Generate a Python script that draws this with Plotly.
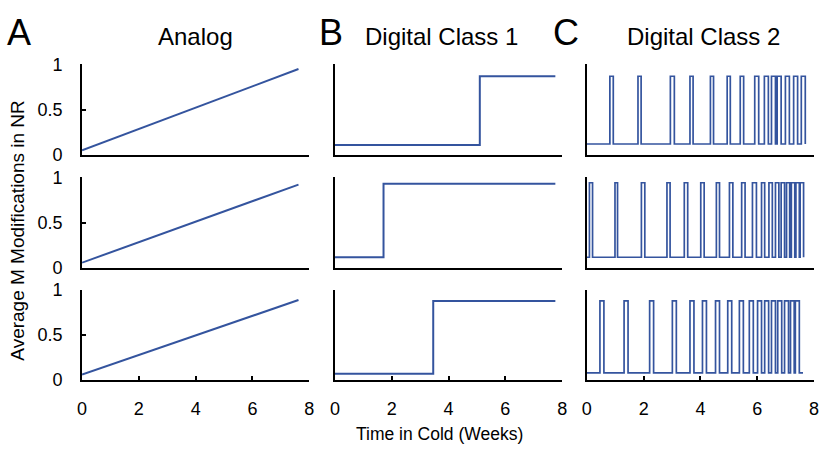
import plotly.graph_objects as go

W, H = 826, 455

# ---------------- data ----------------
rows = [0, 1, 2]
x_ticks = [0, 2, 4, 6, 8]
y_ticks = [0, 0.5, 1]
y_tick_text = ["0", "0.5", "1"]
panel_letters = ["A", "B", "C"]
panel_titles = ["Analog", "Digital Class 1", "Digital Class 2"]
x_title = "Time in Cold (Weeks)"
y_title = "Average M Modifications in NR"

# Analog: linear rise
analog_t = [0.0, 7.62]
analog_start = [0.05, 0.06, 0.06]
analog_end = [0.95, 0.92, 0.89]

# Digital class 1: single switch
class1_low = [0.11, 0.12, 0.07]
class1_high = [0.87, 0.93, 0.88]
class1_switch = [5.10, 1.71, 3.46]
class1_end = [7.76, 7.76, 7.76]

# Digital class 2: repeated pulses (on, off) in weeks
class2_low = [0.12, 0.12, 0.08]
class2_high = [0.87, 0.94, 0.88]
class2_on = [
    [0.81, 1.80, 2.94, 3.63, 4.35, 4.94, 5.40, 5.91, 6.25, 6.50, 6.70, 6.99, 7.28, 7.55],
    [0.09, 0.99, 1.92, 2.82, 3.43, 4.01, 4.56, 5.02, 5.45, 5.83, 6.15, 6.41, 6.64, 6.84, 7.03, 7.20, 7.36, 7.51],
    [0.46, 1.31, 2.21, 3.01, 3.63, 4.07, 4.53, 4.96, 5.37, 5.72, 6.01, 6.26, 6.50, 6.72, 6.96, 7.17, 7.34],
]
class2_off = [
    [0.93, 1.91, 3.08, 3.74, 4.46, 5.05, 5.52, 6.05, 6.39, 6.64, 6.84, 7.13, 7.42, 7.69],
    [0.20, 1.08, 2.04, 2.93, 3.55, 4.13, 4.67, 5.14, 5.57, 5.97, 6.26, 6.53, 6.76, 6.96, 7.14, 7.32, 7.48, 7.63],
    [0.60, 1.45, 2.35, 3.15, 3.77, 4.21, 4.67, 5.10, 5.51, 5.86, 6.15, 6.40, 6.64, 6.86, 7.10, 7.30, 7.48],
]
class2_end = [7.69, 7.63, 7.61]

# ---------------- layout geometry (pixels) ----------------
col_px = [(78, 308), (334, 564), (589, 819)]
row_px = [(57, 151.5), (175, 270), (293, 387)]  # (top, bottom)

LINE = "rgb(52,84,158)"
FONT = "Liberation Sans, Arial, sans-serif"

fig = go.Figure()


def axname(r, c):
    i = r * 3 + c + 1
    return ("x" if i == 1 else f"x{i}"), ("y" if i == 1 else f"y{i}"), i


def pulse_xy(t_end, low, high, ons, offs):
    xs, ys = [0.0], [low]
    for a, b in zip(ons, offs):
        xs += [a, a, b, b]
        ys += [low, high, high, low]
    if xs[-1] < t_end:
        xs.append(t_end)
        ys.append(low)
    return xs, ys


for r in rows:
    xa, ya, _ = axname(r, 0)
    fig.add_trace(go.Scatter(x=analog_t, y=[analog_start[r], analog_end[r]], mode="lines",
                             line=dict(color=LINE, width=2), xaxis=xa, yaxis=ya, showlegend=False))
    xb, yb, _ = axname(r, 1)
    xs = [0, class1_switch[r], class1_switch[r], class1_end[r]]
    ys = [class1_low[r], class1_low[r], class1_high[r], class1_high[r]]
    fig.add_trace(go.Scatter(x=xs, y=ys, mode="lines", line=dict(color=LINE, width=2),
                             xaxis=xb, yaxis=yb, showlegend=False))
    xc, yc, _ = axname(r, 2)
    xs, ys = pulse_xy(class2_end[r], class2_low[r], class2_high[r], class2_on[r], class2_off[r])
    fig.add_trace(go.Scatter(x=xs, y=ys, mode="lines", line=dict(color=LINE, width=1.7),
                             xaxis=xc, yaxis=yc, showlegend=False))

layout = {}
for r in rows:
    for c in range(3):
        xn, yn, i = axname(r, c)
        xkey = "xaxis" if i == 1 else f"xaxis{i}"
        ykey = "yaxis" if i == 1 else f"yaxis{i}"
        x0, x1 = col_px[c]
        top, bot = row_px[r]
        bottom_row = (r == 2)
        layout[xkey] = dict(
            domain=[x0 / W, x1 / W], anchor=yn, range=[0, 8],
            showline=True, linecolor="black", linewidth=2, showgrid=False, zeroline=False,
            tickmode="array", tickvals=x_ticks if bottom_row else [],
            ticktext=[str(v) for v in x_ticks] if bottom_row else [],
            ticks="inside" if bottom_row else "", ticklen=4, tickwidth=1.5, tickcolor="black",
            showticklabels=bottom_row, ticklabelstandoff=11,
            tickfont=dict(family=FONT, size=18, color="black"), fixedrange=True,
        )
        first_col = (c == 0)
        layout[ykey] = dict(
            domain=[(H - bot) / H, (H - top) / H], anchor=xn, range=[0, 1],
            showline=True, linecolor="black", linewidth=2, showgrid=False, zeroline=False,
            tickmode="array", tickvals=y_ticks if first_col else [],
            ticktext=y_tick_text if first_col else [],
            ticks="inside" if first_col else "", ticklen=4, tickwidth=1.5, tickcolor="black",
            showticklabels=first_col, ticklabelstandoff=14,
            tickfont=dict(family=FONT, size=18, color="black"), fixedrange=True,
        )

annotations = []
letter_x = [14, 330, 568]
title_px = [(193, 28), (442, 28), (707, 28)]
for c in range(3):
    annotations.append(dict(text=panel_letters[c], x=letter_x[c] / W, y=1, xref="paper", yref="paper",
                            xanchor="center", yanchor="top", showarrow=False,
                            font=dict(family=FONT, size=36, color="black")))
    tx, ty = title_px[c]
    annotations.append(dict(text=panel_titles[c], x=tx / W, y=1 - ty / H, xref="paper", yref="paper",
                            xanchor="center", yanchor="middle", showarrow=False,
                            font=dict(family=FONT, size=24, color="black")))
annotations.append(dict(text=x_title, x=440 / W, y=1 - 443 / H, xref="paper", yref="paper",
                        xanchor="center", yanchor="middle", showarrow=False,
                        font=dict(family=FONT, size=17.5, color="black")))
annotations.append(dict(text=y_title, x=13 / W, y=1 - 231 / H, xref="paper", yref="paper",
                        xanchor="center", yanchor="middle", showarrow=False, textangle=-90,
                        font=dict(family=FONT, size=19, color="black")))

fig.update_layout(
    width=W, height=H, margin=dict(l=0, r=0, t=0, b=0),
    paper_bgcolor="white", plot_bgcolor="white",
    annotations=annotations, showlegend=False,
    **layout,
)

fig.write_html("out.html", config={"displayModeBar": False},
               post_script="document.body.style.margin='0';document.body.style.overflow='hidden';")
